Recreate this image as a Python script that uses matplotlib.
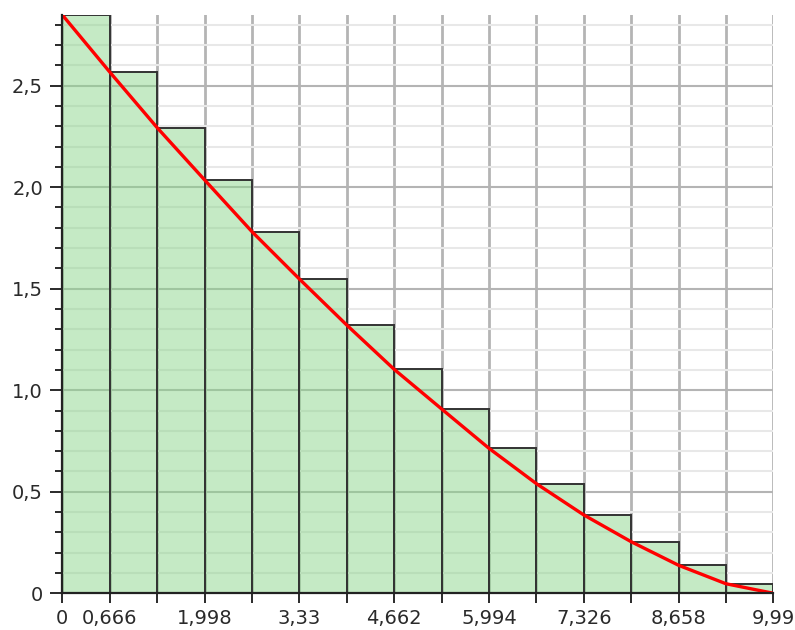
import numpy as np
import matplotlib
matplotlib.use("Agg")
import matplotlib.pyplot as plt
from matplotlib.ticker import MultipleLocator, FixedLocator

# histogram bins (width 0.666) and bar heights
bin_width = 0.666
bin_edges = [round(i * bin_width, 3) for i in range(16)]
bar_heights = [2.848, 2.567, 2.293, 2.036, 1.781, 1.548, 1.321, 1.103,
               0.908, 0.714, 0.540, 0.386, 0.254, 0.138, 0.047]

# density curve read at the bin edges
curve_x = [0, 0.666, 1.332, 1.998, 2.664, 3.33, 3.996, 4.662, 5.328,
           5.994, 6.66, 7.326, 7.992, 8.658, 9.324, 9.99]
curve_y = [2.848, 2.567, 2.293, 2.036, 1.781, 1.548, 1.321, 1.103, 0.908,
           0.714, 0.540, 0.386, 0.254, 0.138, 0.047, 0.0]

x_labels = ["0", "0,666", "", "1,998", "", "3,33", "", "4,662", "",
            "5,994", "", "7,326", "", "8,658", "", "9,99"]
y_major = [0, 0.5, 1.0, 1.5, 2.0, 2.5]
y_labels = ["0", "0,5", "1,0", "1,5", "2,0", "2,5"]

fig = plt.figure(figsize=(7.95, 6.3), dpi=100)
ax = fig.add_axes([0.0784, 0.0583, 0.8943, 0.918])

ax.set_xlim(0, 9.99)
ax.set_ylim(0, max(bar_heights))

# grid first, bars are semi transparent on top
ax.set_axisbelow(True)
ax.yaxis.set_minor_locator(MultipleLocator(0.1))
ax.grid(which="minor", axis="y", color="#e8e8e8", linewidth=1.5)
ax.grid(which="major", axis="y", color="#b4b4b4", linewidth=1.5)
ax.grid(which="major", axis="x", color="#b4b4b4", linewidth=2)

ax.bar(bin_edges[:-1], bar_heights, width=bin_width, align="edge",
       facecolor=(0.55, 0.84, 0.55, 0.5), edgecolor="#333333",
       linewidth=1.4, zorder=2)

ax.plot(curve_x, curve_y, color="red", linewidth=2.4, zorder=3)

ax.xaxis.set_major_locator(FixedLocator(bin_edges))
ax.set_xticklabels(x_labels)
ax.yaxis.set_major_locator(FixedLocator(y_major))
ax.set_yticklabels(y_labels)

ax.tick_params(axis="both", which="major", labelsize=14, colors="#2a2a2a",
               width=1.4)
ax.tick_params(axis="y", which="major", length=9, pad=5)
ax.tick_params(axis="y", which="minor", length=5, width=1.4, colors="#2a2a2a")
ax.tick_params(axis="x", which="major", length=7, pad=4)

for side in ["top", "right"]:
    ax.spines[side].set_visible(False)
for side in ["left", "bottom"]:
    ax.spines[side].set_color("#222222")
    ax.spines[side].set_linewidth(1.6)
    ax.spines[side].set_zorder(4)

fig.savefig("out.png", dpi=100)
